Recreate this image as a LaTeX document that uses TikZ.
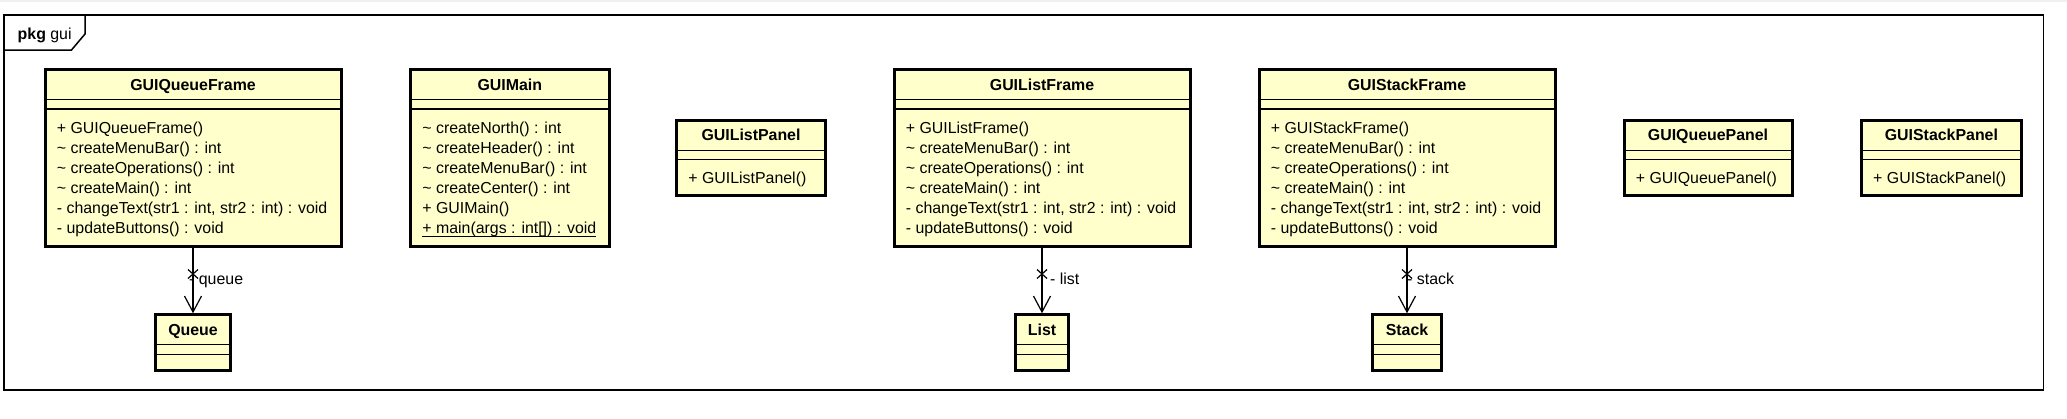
\documentclass[tikz,border=0pt]{standalone}
\usepackage{fontspec}
\setmainfont{Liberation Sans}
\usetikzlibrary{arrows.meta,calc}
\definecolor{umlfill}{RGB}{255,255,204}
\definecolor{topband}{RGB}{240,240,240}
\newcommand\umlfont{\fontsize{15.9}{20}\selectfont}
\newcommand\ulined[1]{\setbox0\hbox{#1}\rlap{\rule[-3.5pt]{\wd0}{1pt}}\box0}
\tikzset{
  classbox/.style={rectangle, draw=black, line width=3pt, fill=umlfill, inner sep=0pt},
  divider/.style={draw=black, line width=1.2pt},
  titletext/.style={font=\bfseries\umlfont, anchor=base, inner sep=0pt},
  optext/.style={font=\umlfont, anchor=base west, inner sep=0pt},
  assoc/.style={draw=black, line width=1.2pt, -{Straight Barb[length=16pt,width=17pt,line width=1.2pt]}},
  xmark/.style={draw=black, line width=1.2pt},
  frameline/.style={draw=black, line width=1.5pt},
}
\newcommand\umlclass[6]{%
  \node[classbox, minimum width=#4pt, minimum height=#5pt] (#1) at (#2,#3) {};
  \node[titletext] (#1-title) at ($(#1.north)+(0,22.2)$) {#6};
  \draw[divider] ($(#1.north west)+(0,31.5)$) -- ($(#1.north east)+(0,31.5)$);
  \draw[divider] ($(#1.north west)+(0,41)$) -- ($(#1.north east)+(0,41)$);
}
\newcommand\umlops[2]{%
  \foreach \optxt [count=\i from 0] in {#2} {%
    \node[optext] (#1-op\i) at ($(#1.north west)+(13.2,65+20*\i)$) {\optxt};
  }%
}
\newcommand\assocx[4]{% source, target, label dx, label text
  \draw[assoc] (#1) -- (#2);
  \draw[xmark] ($(#1.south)+(-5,21.5)$) -- ($(#1.south)+(5,30.5)$);
  \draw[xmark] ($(#1.south)+(5,21.5)$) -- ($(#1.south)+(-5,30.5)$);
  \node[optext] (#1-#2-lbl) at ($(#1.south)+(#3,36.5)$) {#4};
}
\begin{document}
\begin{tikzpicture}[x=1pt,y=-1pt]
\useasboundingbox (0,0) rectangle (2067,418);
\fill[topband] (0,0) rectangle (2067,2);
% package frame
\draw[frameline] (4,15) rectangle (2043.5,390);
\draw[frameline] (85,15) -- (85,34) -- (71.5,50) -- (4,50);
\node[optext] (pkg) at (17.5,39) {\textbf{pkg} gui};
% classes
\umlclass{qf}{193}{158}{296}{177}{GUIQueueFrame}
\umlops{qf}{{+ GUIQueueFrame()},{\textasciitilde\ createMenuBar() : int},{\textasciitilde\ createOperations() : int},{\textasciitilde\ createMain() : int},{- changeText(str1 : int, str2 : int) : void},{- updateButtons() : void}}
\umlclass{gm}{509.85}{158}{198.7}{177}{GUIMain}
\umlops{gm}{{\textasciitilde\ createNorth() : int},{\textasciitilde\ createHeader() : int},{\textasciitilde\ createMenuBar() : int},{\textasciitilde\ createCenter() : int},{+ GUIMain()},{\ulined{+ main(args : int[]) : void}}}
\umlclass{lp}{751}{158}{149}{75.6}{GUIListPanel}
\umlops{lp}{{+ GUIListPanel()}}
\umlclass{lf}{1042}{158}{296}{177}{GUIListFrame}
\umlops{lf}{{+ GUIListFrame()},{\textasciitilde\ createMenuBar() : int},{\textasciitilde\ createOperations() : int},{\textasciitilde\ createMain() : int},{- changeText(str1 : int, str2 : int) : void},{- updateButtons() : void}}
\umlclass{sf}{1407}{158}{296}{177}{GUIStackFrame}
\umlops{sf}{{+ GUIStackFrame()},{\textasciitilde\ createMenuBar() : int},{\textasciitilde\ createOperations() : int},{\textasciitilde\ createMain() : int},{- changeText(str1 : int, str2 : int) : void},{- updateButtons() : void}}
\umlclass{qp}{1708}{158}{168}{75.6}{GUIQueuePanel}
\umlops{qp}{{+ GUIQueuePanel()}}
\umlclass{sp}{1941.4}{158}{160.2}{75.6}{GUIStackPanel}
\umlops{sp}{{+ GUIStackPanel()}}
\umlclass{q}{193}{342.6}{75.7}{55.6}{Queue}
\umlclass{l}{1042}{342.6}{52.8}{55.6}{List}
\umlclass{s}{1407}{342.6}{68.8}{55.6}{Stack}
% associations
\assocx{qf}{q}{-4}{- queue}
\assocx{lf}{l}{8}{- list}
\assocx{sf}{s}{0}{- stack}
\end{tikzpicture}
\end{document}
